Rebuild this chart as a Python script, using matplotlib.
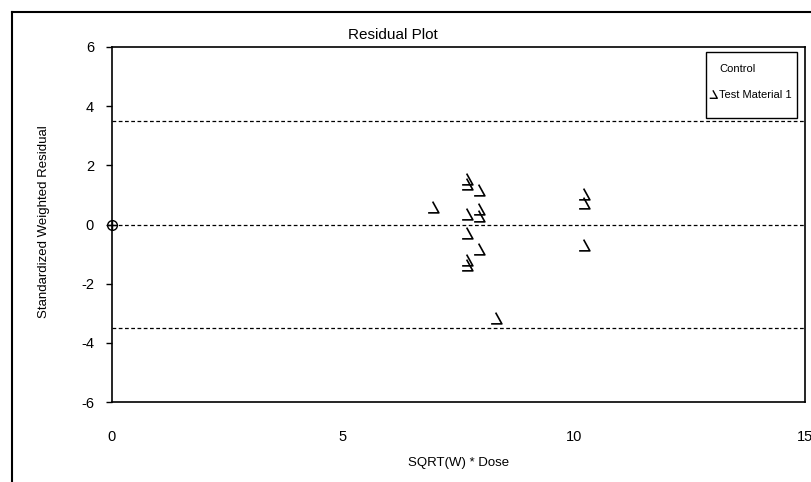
import matplotlib
matplotlib.use("Agg")
import matplotlib.pyplot as plt
from matplotlib.path import Path
from matplotlib.lines import Line2D
from matplotlib.patches import Rectangle

plt.rcParams['font.family'] = ['Liberation Sans', 'DejaVu Sans']
plt.rcParams['axes.unicode_minus'] = False

# Data
control_x = [0.0]
control_y = [0.0]
test_x = [7.68, 7.68, 7.68, 7.68, 7.68, 7.68,
          7.94, 7.94, 7.94, 7.94,
          6.95,
          10.22, 10.22, 10.22,
          8.31]
test_y = [1.53, 1.36, 0.34, -0.28, -1.19, -1.36,
          1.16, 0.51, 0.28, -0.83,
          0.59,
          1.02, 0.74, -0.70,
          -3.17]
ref_lines = [3.5, 0.0, -3.5]
xticks = [0, 5, 10, 15]
yticks = [-6, -4, -2, 0, 2, 4, 6]

W, H = 812, 482
fig = plt.figure(figsize=(W / 100, H / 100), dpi=100)
ax = fig.add_axes([112 / W, 1 - 402 / H, (805 - 112) / W, (402 - 47) / H])

marker_path = Path([(-0.08, 0.55), (0.5, -0.5), (-0.5, -0.5)],
                   [Path.MOVETO, Path.LINETO, Path.LINETO])

for yv in ref_lines:
    ax.plot([0, 15], [yv, yv], color='black', lw=0.9, ls=(0, (3, 2)), zorder=1)

ax.plot(test_x, test_y, ls='none', marker=marker_path, markersize=8.5,
        markerfacecolor='none', markeredgecolor='black', markeredgewidth=1.2,
        zorder=3)
ax.plot(control_x, control_y, ls='none', marker='o', markersize=7,
        markerfacecolor='none', markeredgecolor='black', markeredgewidth=1.0,
        clip_on=False, zorder=4)
ax.plot(control_x, control_y, ls='none', marker='+', markersize=7,
        markeredgecolor='black', markeredgewidth=1.0, clip_on=False, zorder=4)

ax.set_xlim(0, 15)
ax.set_ylim(-6, 6)
ax.set_xticks(xticks)
ax.set_yticks(yticks)
ax.tick_params(axis='both', labelsize=10.5, length=4, width=1, direction='out',
               colors='black')
ax.tick_params(axis='y', pad=9)
ax.tick_params(axis='x', length=0, pad=20)
for s in ax.spines.values():
    s.set_linewidth(1.2)
    s.set_color('black')

fig.text(393 / W, 1 - 35 / H, 'Residual Plot', ha='center', va='center', fontsize=11)
fig.text(459 / W, 1 - 463 / H, 'SQRT(W) * Dose', ha='center', va='center', fontsize=9.5)
fig.text(44 / W, 1 - 222 / H, 'Standardized Weighted Residual', ha='center',
         va='center', rotation=90, fontsize=9.5)

# legend box
fig.add_artist(Rectangle((706 / W, 1 - 118 / H), (797 - 706) / W, (118 - 52) / H,
                         transform=fig.transFigure, facecolor='white',
                         edgecolor='black', lw=1.0, zorder=5))
handles = [Line2D([], [], ls='none', marker=None, label='Control'),
           Line2D([], [], ls='none', marker=marker_path, markersize=6,
                  markerfacecolor='none', markeredgecolor='black',
                  markeredgewidth=1.0, label='Test Material 1')]
leg = fig.legend(handles=handles, loc='upper left',
                 bbox_to_anchor=(710 / W, 1 - 64 / H), fontsize=8,
                 frameon=False, handlelength=0.6,
                 handletextpad=0.2, labelspacing=1.45, borderpad=0,
                 borderaxespad=0)
leg.set_zorder(6)

# outer border of the chart
fig.add_artist(Line2D([12 / W, 12 / W], [0, 1 - 12 / H], transform=fig.transFigure,
                      color='black', lw=1.5))
fig.add_artist(Line2D([12 / W, 1], [1 - 12 / H, 1 - 12 / H], transform=fig.transFigure,
                      color='black', lw=1.5))

fig.savefig('out.png', dpi=100)
